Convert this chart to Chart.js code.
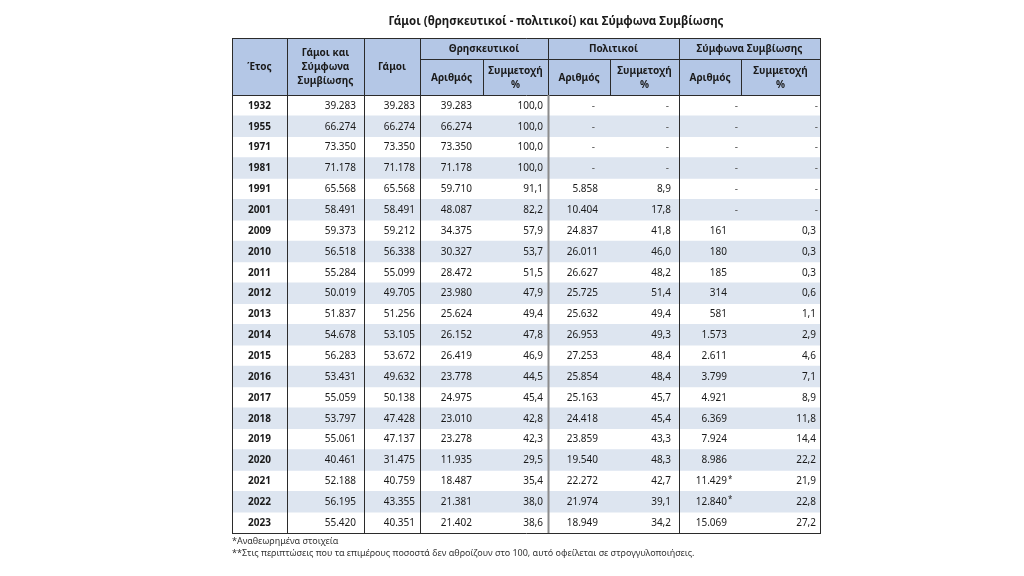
<!DOCTYPE html>
<html>
<head>
<meta charset="utf-8">
<script src="https://cdn.jsdelivr.net/npm/chart.js@4.4.1/dist/chart.umd.min.js"></script>
<style>
  html, body { margin: 0; padding: 0; background: #fff; }
  canvas { display: block; }
</style>
</head>
<body>
<canvas id="marriagesTable" width="1024" height="576"></canvas>
<script>
const title = 'Γάμοι (θρησκευτικοί - πολιτικοί) και Σύμφωνα Συμβίωσης';
const footnotes = [
    '*Αναθεωρημένα στοιχεία',
    '**Στις περιπτώσεις που τα επιμέρους ποσοστά δεν αθροίζουν στο 100, αυτό οφείλεται σε στρογγυλοποιήσεις.'
];

const years = ['1932', '1955', '1971', '1981', '1991', '2001', '2009', '2010', '2011', '2012', '2013',
    '2014', '2015', '2016', '2017', '2018', '2019', '2020', '2021', '2022', '2023'];
const totalUnions = [39283, 66274, 73350, 71178, 65568, 58491, 59373, 56518, 55284, 50019, 51837,
    54678, 56283, 53431, 55059, 53797, 55061, 40461, 52188, 56195, 55420];
const marriages = [39283, 66274, 73350, 71178, 65568, 58491, 59212, 56338, 55099, 49705, 51256,
    53105, 53672, 49632, 50138, 47428, 47137, 31475, 40759, 43355, 40351];
const religiousNum = [39283, 66274, 73350, 71178, 59710, 48087, 34375, 30327, 28472, 23980, 25624,
    26152, 26419, 23778, 24975, 23010, 23278, 11935, 18487, 21381, 21402];
const religiousPct = [100.0, 100.0, 100.0, 100.0, 91.1, 82.2, 57.9, 53.7, 51.5, 47.9, 49.4,
    47.8, 46.9, 44.5, 45.4, 42.8, 42.3, 29.5, 35.4, 38.0, 38.6];
const civilNum = [null, null, null, null, 5858, 10404, 24837, 26011, 26627, 25725, 25632,
    26953, 27253, 25854, 25163, 24418, 23859, 19540, 22272, 21974, 18949];
const civilPct = [null, null, null, null, 8.9, 17.8, 41.8, 46.0, 48.2, 51.4, 49.4,
    49.3, 48.4, 48.4, 45.7, 45.4, 43.3, 48.3, 42.7, 39.1, 34.2];
const pactNum = [null, null, null, null, null, null, 161, 180, 185, 314, 581,
    1573, 2611, 3799, 4921, 6369, 7924, 8986, 11429, 12840, 15069];
const pactPct = [null, null, null, null, null, null, 0.3, 0.3, 0.3, 0.6, 1.1,
    2.9, 4.6, 7.1, 8.9, 11.8, 14.4, 22.2, 21.9, 22.8, 27.2];
const revisedYears = ['2021', '2022'];

const groupLabels = ['Θρησκευτικοί', 'Πολιτικοί', 'Σύμφωνα Συμβίωσης'];
const fixedHeads = [['Έτος'], ['Γάμοι και', 'Σύμφωνα', 'Συμβίωσης'], ['Γάμοι']];
const subHeads = [['Αριθμός'], ['Συμμετοχή', '%']];

// layout (pixels)
const colWidths = [55, 77, 56, 63, 65, 62, 69, 62, 79];
const colEdges = colWidths.reduce((acc, w) => acc.concat(acc[acc.length - 1] + w), [0]);
const tableWidth = colEdges[colEdges.length - 1];
const headHeight = 57;
const groupHeight = 21;
const numPad = [0, 8, 5, 11, 5, 12, 8, 14, 4];
const dashPad = [0, 8, 5, 11, 5, 15, 10, 3, 2];

const headColor = '#b4c7e6';
const bandColor = '#dde5f0';
const textColor = '#1a1a1a';
const lineColor = '#2b2b2b';
const font = "'Noto Sans', sans-serif";

function fmtInt(n) {
    return String(n).replace(/\B(?=(\d{3})+(?!\d))/g, '.');
}

function fmtPct(n) {
    return n.toFixed(1).replace('.', ',');
}

const columns = [
    years, totalUnions, marriages, religiousNum, religiousPct,
    civilNum, civilPct, pactNum, pactPct
];
const isPct = [false, false, false, false, true, false, true, false, true];

const tablePlugin = {
    id: 'tableCells',
    beforeDatasetsDraw(chart) {
        const {ctx, chartArea: a, scales: {x}} = chart;
        const left = x.getPixelForValue(0);
        const right = x.getPixelForValue(tableWidth);
        ctx.save();
        ctx.fillStyle = headColor;
        ctx.fillRect(left, a.top - headHeight, right - left, headHeight);
        ctx.restore();
    },
    afterDatasetsDraw(chart) {
        const {ctx, chartArea: a, scales: {x, y}} = chart;
        const px = v => Math.round(x.getPixelForValue(v));
        const top = Math.round(a.top - headHeight);
        const groupLine = top + groupHeight;
        const headBottom = Math.round(a.top);
        const bottom = Math.round(a.bottom);
        const left = px(0);
        const right = px(tableWidth);

        ctx.save();

        // title
        ctx.fillStyle = textColor;
        ctx.textBaseline = 'middle';
        ctx.textAlign = 'center';
        ctx.font = `bold 11.5px ${font}`;
        ctx.fillText(title, (left + right) / 2 + 30, top - 16);

        // header texts
        ctx.font = `bold 10px ${font}`;
        const lh = 14;
        const drawLines = (lines, cx, cy) => {
            lines.forEach((t, i) => {
                ctx.fillText(t, cx, cy + (i - (lines.length - 1) / 2) * lh);
            });
        };
        fixedHeads.forEach((lines, c) => {
            drawLines(lines, (px(colEdges[c]) + px(colEdges[c + 1])) / 2, (top + headBottom) / 2 + 1);
        });
        groupLabels.forEach((label, g) => {
            const c = 3 + g * 2;
            drawLines([label], (px(colEdges[c]) + px(colEdges[c + 2])) / 2, (top + groupLine) / 2 + 1);
            subHeads.forEach((lines, s) => {
                drawLines(lines, (px(colEdges[c + s]) + px(colEdges[c + s + 1])) / 2,
                    (groupLine + headBottom) / 2 + 1);
            });
        });

        // data cells
        years.forEach((yr, r) => {
            const cy = y.getPixelForValue(r) + 0.5;
            columns.forEach((col, c) => {
                const v = col[r];
                if (c === 0) {
                    ctx.font = `bold 10px ${font}`;
                    ctx.fillStyle = textColor;
                    ctx.textAlign = 'center';
                    ctx.fillText(v, (px(colEdges[0]) + px(colEdges[1])) / 2, cy);
                    return;
                }
                ctx.font = `10px ${font}`;
                ctx.textAlign = 'right';
                const xr = px(colEdges[c + 1]);
                if (v === null) {
                    ctx.fillStyle = '#555';
                    ctx.fillText('-', xr - dashPad[c], cy);
                    return;
                }
                ctx.fillStyle = textColor;
                ctx.fillText(isPct[c] ? fmtPct(v) : fmtInt(v), xr - numPad[c], cy);
                if (c === 7 && revisedYears.includes(yr)) {
                    ctx.textAlign = 'left';
                    ctx.font = `8px ${font}`;
                    ctx.fillText('*', xr - numPad[c] + 1, cy - 2);
                }
            });
        });

        // borders
        const line = (x1, y1, x2, y2, color, w) => {
            ctx.strokeStyle = color;
            ctx.lineWidth = w;
            ctx.beginPath();
            ctx.moveTo(x1, y1);
            ctx.lineTo(x2, y2);
            ctx.stroke();
        };
        [top, headBottom, bottom].forEach(yy => line(left, yy + 0.5, right + 1, yy + 0.5, lineColor, 1));
        line(px(colEdges[3]), groupLine + 0.5, right, groupLine + 0.5, lineColor, 1);
        [0, 1, 2, 3, 7, 9].forEach(e => line(px(colEdges[e]) + 0.5, top, px(colEdges[e]) + 0.5, bottom + 1, lineColor, 1));
        line(px(colEdges[5]) + 0.5, top, px(colEdges[5]) + 0.5, headBottom, lineColor, 1);
        line(px(colEdges[5]) + 0.5, headBottom, px(colEdges[5]) + 0.5, bottom, '#8c8c8c', 2);
        [4, 6, 8].forEach(e => line(px(colEdges[e]) + 0.5, groupLine, px(colEdges[e]) + 0.5, headBottom, lineColor, 1));

        // footnotes
        ctx.fillStyle = '#333';
        ctx.textAlign = 'left';
        ctx.font = `9px ${font}`;
        footnotes.forEach((t, i) => ctx.fillText(t, left, bottom + 8 + i * 12));

        ctx.restore();
    }
};

new Chart(document.getElementById('marriagesTable'), {
    type: 'bar',
    data: {
        labels: years,
        datasets: [{
            label: 'rows',
            data: years.map((_, i) => (i % 2 ? [0, tableWidth] : null)),
            backgroundColor: bandColor,
            borderWidth: 0,
            barPercentage: 1,
            categoryPercentage: 1,
        }]
    },
    options: {
        indexAxis: 'y',
        responsive: false,
        animation: false,
        devicePixelRatio: 1,
        layout: {
            padding: {left: 232, right: 1024 - 232 - tableWidth, top: 95, bottom: 43}
        },
        scales: {
            x: {type: 'linear', min: 0, max: tableWidth, display: false},
            y: {display: false}
        },
        plugins: {
            legend: {display: false},
            tooltip: {enabled: false},
            title: {display: false}
        }
    },
    plugins: [tablePlugin]
});
</script>
</body>
</html>
